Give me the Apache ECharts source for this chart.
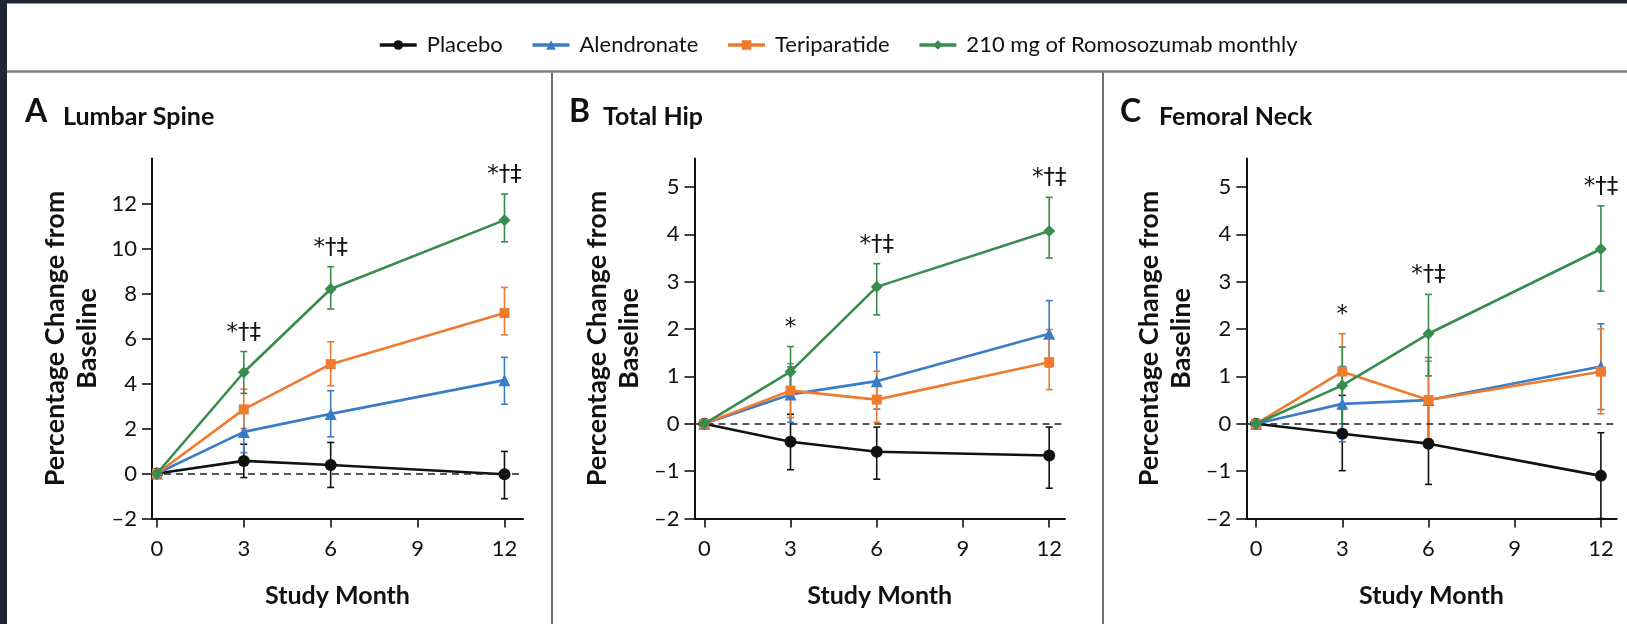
<!DOCTYPE html>
<html>
<head>
<meta charset="utf-8">
<script src="https://cdn.jsdelivr.net/npm/echarts@6/dist/echarts.min.js"></script>
<style>
  html, body { margin: 0; padding: 0; background: #ffffff; }
  #chart { width: 1627px; height: 624px; }
</style>
</head>
<body>
<div id="chart"></div>
<script>
// ---- data -----------------------------------------------------------------
const studyMonths = [0, 3, 6, 12];
const monthTicks = [0, 3, 6, 9, 12];
const spineTicks = [-2, 0, 2, 4, 6, 8, 10, 12];
const hipNeckTicks = [-2, -1, 0, 1, 2, 3, 4, 5];
const baseline = 0;

const groupNames = ['Placebo', 'Alendronate', 'Teriparatide', '210 mg of Romosozumab monthly'];

// A  Lumbar spine: mean percentage change and 95% CI per study month
const spinePlacebo = [0, 0.56, 0.38, -0.03];
const spinePlaceboCI = [null, [-0.18, 1.30], [-0.62, 1.38], [-1.12, 0.98]];
const spineAlendronate = [0, 1.85, 2.65, 4.15];
const spineAlendronateCI = [null, [0.93, 2.77], [1.63, 3.68], [3.08, 5.16]];
const spineTeriparatide = [0, 2.85, 4.86, 7.13];
const spineTeriparatideCI = [null, [2.00, 3.75], [3.90, 5.85], [6.16, 8.27]];
const spineRomosozumab = [0, 4.50, 8.20, 11.26];
const spineRomosozumabCI = [null, [3.56, 5.42], [7.31, 9.19], [10.30, 12.42]];
const spineNotes = [[3, '*†‡'], [6, '*†‡'], [12, '*†‡']];

// B  Total hip
const hipPlacebo = [0, -0.38, -0.59, -0.67];
const hipPlaceboCI = [null, [-0.97, 0.20], [-1.17, -0.07], [-1.36, -0.07]];
const hipAlendronate = [0, 0.62, 0.90, 1.90];
const hipAlendronateCI = [null, [0.03, 1.20], [0.31, 1.51], [1.20, 2.60]];
const hipTeriparatide = [0, 0.70, 0.51, 1.30];
const hipTeriparatideCI = [null, [0.13, 1.27], [0.03, 1.11], [0.72, 1.99]];
const hipRomosozumab = [0, 1.10, 2.89, 4.07];
const hipRomosozumabCI = [null, [0.58, 1.63], [2.30, 3.38], [3.50, 4.78]];
const hipNotes = [[3, '*'], [6, '*†‡'], [12, '*†‡']];

// C  Femoral neck
const neckPlacebo = [0, -0.21, -0.42, -1.10];
const neckPlaceboCI = [null, [-0.99, 0.60], [-1.28, 0.46], [-2.00, -0.19]];
const neckAlendronate = [0, 0.42, 0.50, 1.21];
const neckAlendronateCI = [null, [-0.38, 1.21], [-0.40, 1.40], [0.30, 2.11]];
const neckTeriparatide = [0, 1.10, 0.50, 1.10];
const neckTeriparatideCI = [null, [0.30, 1.90], [-0.32, 1.32], [0.21, 2.00]];
const neckRomosozumab = [0, 0.81, 1.90, 3.69];
const neckRomosozumabCI = [null, [0.00, 1.62], [1.01, 2.73], [2.80, 4.60]];
const neckNotes = [[3, '*'], [6, '*†‡'], [12, '*†‡']];

// ---- styling ----------------------------------------------------------------
const groupColors = ['#111111', '#3a7cc6', '#ee7b30', '#378c4e'];
const groupSymbols = ['circle', 'triangle', 'rect', 'diamond'];
const groupSymbolSizes = [12, 12, 10, 12];
const FONT = 'Lato';
const NOTE_FONT = '"DejaVu Sans"';
const INK = '#111111';

const panels = [
  {
    letter: 'A', title: 'Lumbar Spine',
    means: [spinePlacebo, spineAlendronate, spineTeriparatide, spineRomosozumab],
    cis: [spinePlaceboCI, spineAlendronateCI, spineTeriparatideCI, spineRomosozumabCI],
    notes: spineNotes, yTicks: spineTicks, yMin: -2, yMax: 14, xMin: -0.17, xMax: 12.64,
    grid: { left: 152, top: 158.5, width: 371, height: 360 },
    letterX: 25, titleX: 63
  },
  {
    letter: 'B', title: 'Total Hip',
    means: [hipPlacebo, hipAlendronate, hipTeriparatide, hipRomosozumab],
    cis: [hipPlaceboCI, hipAlendronateCI, hipTeriparatideCI, hipRomosozumabCI],
    notes: hipNotes, yTicks: hipNeckTicks, yMin: -2, yMax: 5.6, xMin: -0.34, xMax: 12.55,
    grid: { left: 694.5, top: 158.5, width: 370.5, height: 360 },
    letterX: 569, titleX: 603
  },
  {
    letter: 'C', title: 'Femoral Neck',
    means: [neckPlacebo, neckAlendronate, neckTeriparatide, neckRomosozumab],
    cis: [neckPlaceboCI, neckAlendronateCI, neckTeriparatideCI, neckRomosozumabCI],
    notes: neckNotes, yTicks: hipNeckTicks, yMin: -2, yMax: 5.6, xMin: -0.34, xMax: 12.55,
    grid: { left: 1246.3, top: 158.5, width: 370.4, height: 360 },
    letterX: 1120, titleX: 1159
  }
];

function tickLabel(v) {
  return v < 0 ? '\u2013' + Math.abs(v) : String(v);
}

function errorBarRenderer(color) {
  return function (params, api) {
    const x = api.value(0);
    const lo = api.coord([x, api.value(1)]);
    const hi = api.coord([x, api.value(2)]);
    const cap = 3.5;
    const style = { stroke: color, lineWidth: 1.6 };
    return {
      type: 'group',
      children: [
        { type: 'line', shape: { x1: lo[0], y1: lo[1], x2: hi[0], y2: hi[1] }, style: style },
        { type: 'line', shape: { x1: lo[0] - cap, y1: lo[1], x2: lo[0] + cap, y2: lo[1] }, style: style },
        { type: 'line', shape: { x1: hi[0] - cap, y1: hi[1], x2: hi[0] + cap, y2: hi[1] }, style: style }
      ]
    };
  };
}

function noteRenderer(notes) {
  return function (params, api) {
    const p = api.coord([api.value(0), api.value(1)]);
    return {
      type: 'text',
      x: p[0],
      y: p[1] - 19,
      style: {
        text: notes[params.dataIndex][1],
        fill: INK,
        font: '23px ' + NOTE_FONT,
        align: 'center',
        verticalAlign: 'middle'
      }
    };
  };
}

const grids = [];
const xAxes = [];
const yAxes = [];
const series = [];
const titles = [];

panels.forEach(function (p, i) {
  grids.push(p.grid);

  xAxes.push({
    type: 'value', gridIndex: i, min: p.xMin, max: p.xMax,
    name: 'Study Month', nameLocation: 'middle', nameGap: 65,
    nameTextStyle: { fontFamily: FONT, fontWeight: 'bold', fontSize: 25, color: INK },
    axisLine: { onZero: false, lineStyle: { color: INK, width: 2 } },
    axisTick: { show: true, length: 9, customValues: monthTicks, lineStyle: { color: INK, width: 1.6 } },
    axisLabel: { customValues: monthTicks, margin: 19, fontFamily: FONT, fontSize: 22, color: INK },
    splitLine: { show: false }
  });

  yAxes.push({
    type: 'value', gridIndex: i, min: p.yMin, max: p.yMax,
    name: 'Percentage Change from\nBaseline', nameLocation: 'middle', nameGap: 49,
    nameTextStyle: { fontFamily: FONT, fontWeight: 'bold', fontSize: 27, color: INK, lineHeight: 32, align: 'center' },
    axisLine: { show: true, onZero: false, lineStyle: { color: INK, width: 2 } },
    axisTick: { show: true, length: 10, customValues: p.yTicks, lineStyle: { color: INK, width: 1.6 } },
    axisLabel: { customValues: p.yTicks, formatter: tickLabel, margin: 15, fontFamily: FONT, fontSize: 22, color: INK },
    splitLine: { show: false }
  });

  titles.push({
    left: p.letterX, top: 96, padding: 0, text: p.letter,
    textStyle: { fontFamily: FONT, fontWeight: 'bold', fontSize: 32, color: INK }
  });
  titles.push({
    left: p.titleX, top: 104, padding: 0, text: p.title,
    textStyle: { fontFamily: FONT, fontWeight: 'bold', fontSize: 25, color: INK }
  });

  // error bars drawn beneath the lines and markers
  groupNames.forEach(function (name, g) {
    const bars = [];
    p.cis[g].forEach(function (ci, k) {
      if (ci) bars.push([studyMonths[k], ci[0], ci[1]]);
    });
    series.push({
      type: 'custom', name: name, xAxisIndex: i, yAxisIndex: i,
      data: bars, encode: { x: 0, y: [1, 2] },
      renderItem: errorBarRenderer(groupColors[g]), z: 2, silent: true
    });
  });

  groupNames.forEach(function (name, g) {
    const s = {
      type: 'line', name: name, xAxisIndex: i, yAxisIndex: i,
      data: studyMonths.map(function (m, k) { return [m, p.means[g][k]]; }),
      symbol: groupSymbols[g], symbolSize: groupSymbolSizes[g], showAllSymbol: true,
      lineStyle: { color: groupColors[g], width: 2.6 },
      itemStyle: { color: groupColors[g] },
      z: 3 + g
    };
    if (g === 0) {
      s.markLine = {
        silent: true, symbol: ['none', 'none'], label: { show: false },
        lineStyle: { color: '#222222', width: 1.6, type: [7, 5] },
        data: [{ yAxis: baseline }]
      };
    }
    series.push(s);
  });

  // significance markers above the highest CI at each month
  const anchors = p.notes.map(function (n) {
    const k = studyMonths.indexOf(n[0]);
    let top = -Infinity;
    p.cis.forEach(function (c) { if (c[k]) top = Math.max(top, c[k][1]); });
    return [n[0], top];
  });
  series.push({
    type: 'custom', name: 'notes-' + p.letter, xAxisIndex: i, yAxisIndex: i,
    data: anchors, encode: { x: 0, y: 1 },
    renderItem: noteRenderer(p.notes), z: 10, silent: true
  });
});

// line series first, so the legend takes its icons from them
series.sort(function (a, b) {
  const ra = a.type === 'line' ? 0 : 1;
  const rb = b.type === 'line' ? 0 : 1;
  return ra - rb;
});

const chart = echarts.init(document.getElementById('chart'), null, { renderer: 'canvas' });
chart.setOption({
  backgroundColor: '#ffffff',
  animation: false,
  title: titles,
  legend: {
    data: groupNames, left: 373, top: 29,
    itemWidth: 37, itemHeight: 12, itemGap: 28,
    selectedMode: false,
    lineStyle: { width: 3.5 },
    textStyle: { fontFamily: FONT, fontSize: 22, color: INK, padding: [0, 0, 0, 5] }
  },
  grid: grids,
  xAxis: xAxes,
  yAxis: yAxes,
  series: series,
  graphic: [
    { type: 'rect', shape: { x: 0, y: 0, width: 1627, height: 3.5 }, style: { fill: '#1f2736' }, silent: true },
    { type: 'rect', shape: { x: 0, y: 0, width: 7, height: 624 }, style: { fill: '#1f2736' }, silent: true },
    { type: 'line', shape: { x1: 7, y1: 71.5, x2: 1627, y2: 71.5 }, style: { stroke: '#808080', lineWidth: 2.5 }, silent: true },
    { type: 'line', shape: { x1: 552, y1: 72.5, x2: 552, y2: 624 }, style: { stroke: '#707070', lineWidth: 2 }, silent: true },
    { type: 'line', shape: { x1: 1103, y1: 72.5, x2: 1103, y2: 624 }, style: { stroke: '#707070', lineWidth: 2 }, silent: true }
  ]
});
</script>
</body>
</html>
